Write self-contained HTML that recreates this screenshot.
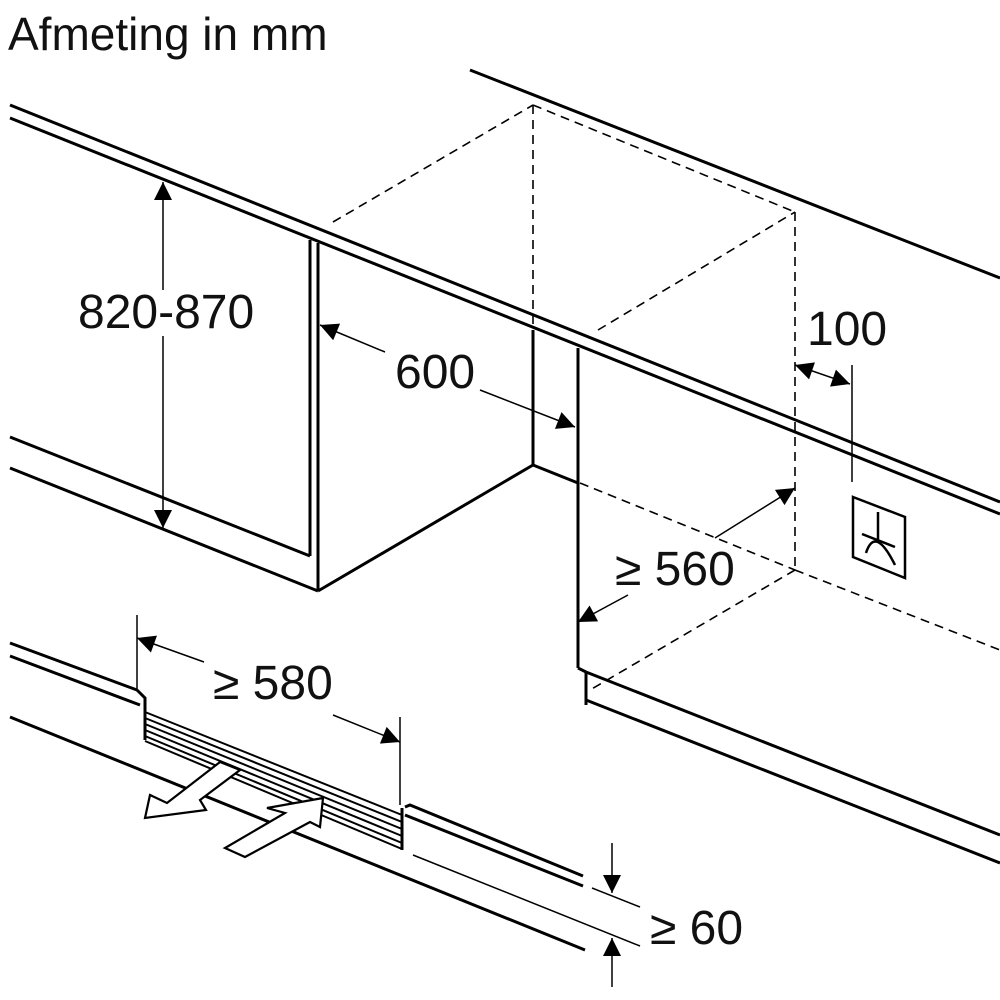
<!DOCTYPE html>
<html><head><meta charset="utf-8"><style>
html,body{margin:0;padding:0;background:#fff;}
svg{display:block;}
text{font-family:"Liberation Sans",Arial,sans-serif;fill:#111;}
</style></head><body>
<svg width="1000" height="1000" viewBox="0 0 1000 1000" xmlns="http://www.w3.org/2000/svg">
<defs>
<marker id="b" viewBox="0 0 10 10" refX="10" refY="5" markerWidth="22" markerHeight="18" markerUnits="userSpaceOnUse" orient="auto-start-reverse"><path d="M0,0 L10,5 L0,10 z" fill="#000"/></marker>
</defs>
<text x="8" y="50" font-size="46">Afmeting in mm</text>
<g stroke="#000" fill="none" stroke-width="3">
<line x1="10" y1="105" x2="1000" y2="502"/>
<line x1="10" y1="118" x2="1000" y2="514"/>
<line x1="470" y1="70" x2="1000" y2="278"/>
<line x1="310" y1="240" x2="310" y2="556"/>
<line x1="318" y1="243" x2="318" y2="591"/>
<line x1="10" y1="437" x2="310" y2="556"/>
<line x1="10" y1="468" x2="318" y2="591"/>
<line x1="318" y1="591" x2="533" y2="465"/>
<line x1="533" y1="330" x2="533" y2="465"/>
<line x1="533" y1="465" x2="578" y2="483"/>
<line x1="578" y1="348" x2="578" y2="668"/>
<line x1="578" y1="668" x2="586" y2="672"/>
<line x1="586" y1="672" x2="586" y2="705"/>
<line x1="586" y1="672" x2="1000" y2="835"/>
<line x1="586" y1="700" x2="1000" y2="863"/>
</g>
<g stroke="#000" fill="none" stroke-width="1.6" stroke-dasharray="9,6">
<line x1="333" y1="222" x2="533" y2="105"/>
<line x1="533" y1="105" x2="795" y2="212"/>
<line x1="533" y1="105" x2="533" y2="330"/>
<line x1="598" y1="330" x2="795" y2="212"/>
<line x1="795" y1="212" x2="795" y2="570"/>
<line x1="580" y1="483" x2="795" y2="570"/>
<line x1="795" y1="570" x2="1000" y2="650"/>
<line x1="795" y1="570" x2="590" y2="690"/>
</g>
<g stroke="#000" fill="none" stroke-width="1.5">
<line x1="163" y1="182" x2="163" y2="528" marker-start="url(#b)" marker-end="url(#b)"/>
<line x1="320" y1="325" x2="385" y2="352" marker-start="url(#b)"/>
<line x1="480" y1="390" x2="575" y2="427" marker-end="url(#b)"/>
<line x1="795" y1="365" x2="850" y2="384" marker-start="url(#b)" marker-end="url(#b)"/>
<line x1="852" y1="365" x2="852" y2="482"/>
<line x1="715" y1="538" x2="795" y2="488" marker-end="url(#b)"/>
<line x1="628" y1="595" x2="578" y2="622" marker-end="url(#b)"/>
<line x1="137" y1="615" x2="137" y2="690"/>
<line x1="400" y1="717" x2="400" y2="805"/>
<line x1="204" y1="662" x2="137" y2="638" marker-end="url(#b)"/>
<line x1="333" y1="715" x2="400" y2="742" marker-end="url(#b)"/>
<line x1="612" y1="843" x2="612" y2="893" marker-end="url(#b)"/>
<line x1="612" y1="987" x2="612" y2="938" marker-end="url(#b)"/>
<line x1="592" y1="888" x2="640" y2="907"/>
<line x1="413" y1="855" x2="640" y2="946"/>
</g>
<g stroke="#000" fill="none" stroke-width="2.5">
<path d="M853,497 L905,517 L905,578 L853,557 Z"/>
<line x1="878" y1="512" x2="878" y2="540"/>
<line x1="862" y1="534" x2="895" y2="547"/>
<path d="M866,553 Q875,525 895,565"/>
</g>
<rect x="76" y="290" width="180" height="46" fill="#fff"/>
<text x="78" y="328" font-size="48">820-870</text>
<text x="395" y="388" font-size="48">600</text>
<text x="807" y="345" font-size="48">100</text>
<text x="615" y="585" font-size="48">≥ 560</text>
<text x="213" y="699" font-size="48">≥ 580</text>
<text x="650" y="944" font-size="48">≥ 60</text>
<g stroke="#000" fill="none" stroke-width="3">
<line x1="10" y1="643" x2="137" y2="690"/>
<line x1="10" y1="656" x2="140" y2="705"/>
<path d="M137,690 L145,698 L145,740"/>
<line x1="10" y1="717" x2="585" y2="950"/>
<path d="M405,807 L410,805 L583,876"/>
<line x1="405" y1="815" x2="583" y2="886"/>
<line x1="402" y1="808" x2="402" y2="850"/>
</g>
<g stroke="#000" fill="none" stroke-width="2">
<line x1="145" y1="712" x2="402" y2="815"/>
<line x1="145" y1="718" x2="402" y2="822"/>
<line x1="145" y1="724" x2="402" y2="829"/>
<line x1="145" y1="730" x2="402" y2="836"/>
<line x1="145" y1="736" x2="402" y2="843"/>
<line x1="145" y1="741" x2="402" y2="849"/>
</g>
<g stroke="#000" fill="#fff" stroke-width="2.2">
<path d="M220,762 L240,770 L200,800 L206,810 L145,818 L150,795 L167,803 Z"/>
<path d="M323,798 L320,827 L310,822 L245,857 L225,848 L285,813 L267,808 Z"/>
</g>
</svg>
</body></html>
